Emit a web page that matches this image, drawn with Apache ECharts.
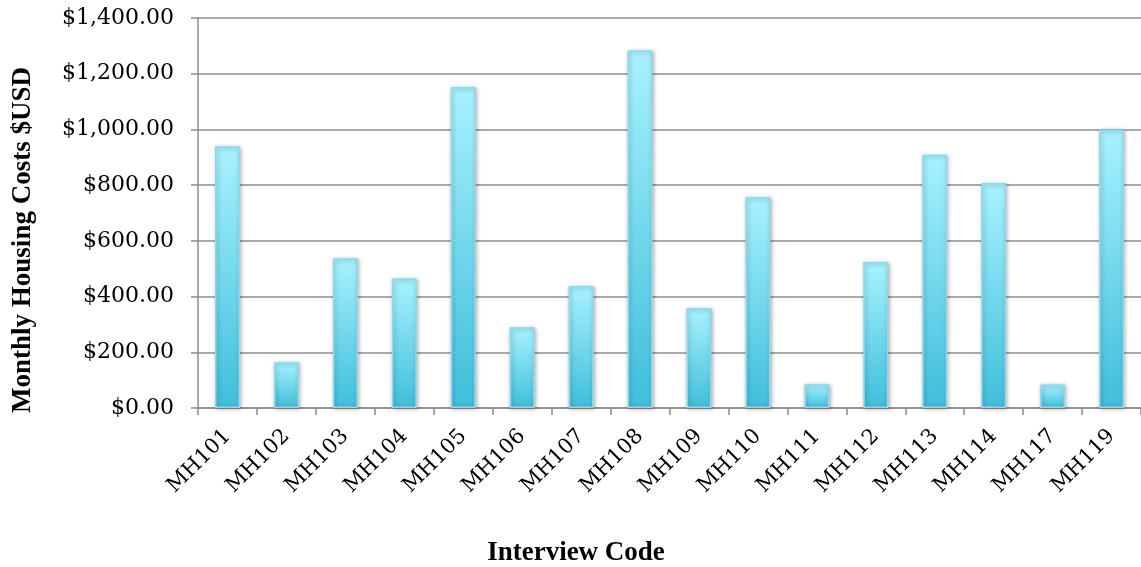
<!DOCTYPE html>
<html>
<head>
<meta charset="utf-8">
<script src="https://cdn.jsdelivr.net/npm/echarts@6/dist/echarts.min.js"></script>
<style>
  html, body { margin: 0; padding: 0; background: #ffffff; overflow: hidden; }
  #chart { width: 1141px; height: 567px; }
</style>
</head>
<body>
<div id="chart"></div>
<script>
// Interview codes and the monthly housing cost reported for each
const categories = ['MH101', 'MH102', 'MH103', 'MH104', 'MH105', 'MH106', 'MH107', 'MH108',
                    'MH109', 'MH110', 'MH111', 'MH112', 'MH113', 'MH114', 'MH117', 'MH119'];
const housingCosts = [940, 164, 538, 465, 1152, 290, 438, 1283,
                      358, 757, 85, 524, 909, 808, 84, 1000];
const yTicks = { min: 0, max: 1400, interval: 200 };
const xTitle = 'Interview Code';
const yTitle = 'Monthly Housing Costs $USD';

const FONT = '"DejaVu Serif", "Liberation Serif", serif';
const TITLE_FONT = '"Liberation Serif", "DejaVu Serif", serif';

const chart = echarts.init(document.getElementById('chart'), null, { renderer: 'canvas' });

const money = v => '$' + v.toLocaleString('en-US', { minimumFractionDigits: 2, maximumFractionDigits: 2 });

chart.setOption({
  animation: false,
  backgroundColor: '#ffffff',
  // the plot runs slightly past the right edge of the canvas
  grid: { left: 198, right: -6, top: 18, bottom: 159, containLabel: false },
  xAxis: {
    type: 'category',
    data: categories,
    axisLine: { show: true, lineStyle: { color: '#8c8c8c', width: 1.5 } },
    axisTick: { show: true, alignWithLabel: false, length: 7, lineStyle: { color: '#8c8c8c', width: 1.5 } },
    axisLabel: {
      rotate: 45, margin: 25, color: '#000', fontFamily: FONT, fontSize: 21
    },
    splitLine: { show: false }
  },
  yAxis: {
    type: 'value',
    min: yTicks.min, max: yTicks.max, interval: yTicks.interval,
    axisLine: { show: true, lineStyle: { color: '#8c8c8c', width: 1.5 } },
    axisTick: { show: true, length: 7, lineStyle: { color: '#8c8c8c', width: 1.5 } },
    axisLabel: {
      margin: 24, color: '#000', fontFamily: FONT, fontSize: 22,
      formatter: money
    },
    splitLine: { show: true, lineStyle: { color: '#8e8e8e', width: 1.5 } }
  },
  series: [{
    type: 'bar',
    data: housingCosts,
    barWidth: 25,
    itemStyle: {
      color: new echarts.graphic.LinearGradient(0, 0, 0, 1, [
        { offset: 0, color: '#a8f2ff' },
        { offset: 1, color: '#3fbedb' }
      ]),
      borderColor: '#92d8ea',
      borderWidth: 1.5,
      shadowColor: 'rgba(0,0,0,0.3)',
      shadowBlur: 4,
      shadowOffsetX: 1,
      shadowOffsetY: 1
    }
  }],
  graphic: [
    {
      type: 'text',
      x: 576, y: 553,
      style: {
        text: xTitle, fill: '#000', font: 'bold 27px ' + TITLE_FONT,
        textAlign: 'center', textVerticalAlign: 'middle'
      }
    },
    {
      type: 'text',
      x: 23, y: 240,
      rotation: Math.PI / 2,
      style: {
        text: yTitle, fill: '#000', font: 'bold 27px ' + TITLE_FONT,
        textAlign: 'center', textVerticalAlign: 'middle'
      }
    }
  ]
});
</script>
</body>
</html>
